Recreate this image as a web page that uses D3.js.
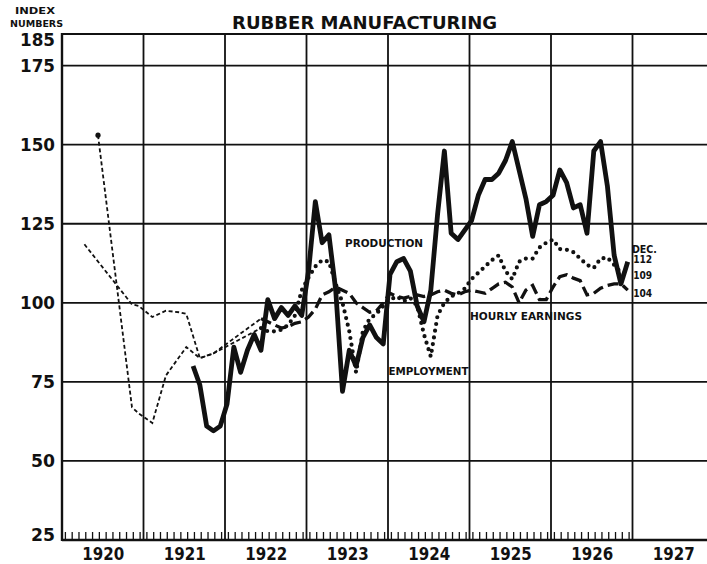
<!DOCTYPE html>
<html>
  <head>
    <meta charset="utf-8">
    <title>Rubber manufacturing</title>
    <script src="https://d3js.org/d3.v7.min.js"></script>
    <style>
      body { margin: 0; background: #fff; }
      svg { display: block; background: #fff; }
      text { font-family: "DejaVu Sans", sans-serif; font-weight: bold; fill: #111; }
    </style>
  </head>
  <body>
    <svg id="chart" width="707" height="564"></svg>
    <script>
      // index numbers, month 0 = Jan 1920
      const years = ["1920", "1921", "1922", "1923", "1924", "1925", "1926", "1927"];
      const yTicks = [25, 50, 75, 100, 125, 150, 175, 185];
      const gridValues = [50, 75, 100, 125, 150, 175, 185];

      // production, monthly from Aug 1921
      const productionStart = 19;
      const production = [
        80, 74, 61, 59.5, 61,
        68, 86, 78, 85, 90, 85, 101, 95, 98.5, 96, 99, 96,
        110, 132, 119, 121.5, 104, 72, 85, 80, 89, 93, 89, 87,
        109, 113, 114, 110, 99, 94, 104, 128, 148, 122, 120, 123,
        126, 134, 139, 139, 141, 145, 151, 142, 133, 121, 131, 132,
        134, 142, 138, 130, 131, 122, 148, 151, 137, 115, 106, 113
      ];

      // employment and hourly earnings, monthly from Jun 1922
      const seriesStart = 29;
      const employment = [
        92, 91, 91, 91.5, 93, 96, 104,
        108, 111.5, 113.5, 113, 106, 100, 91, 78, 91, 95, 96.5, 99,
        101, 102, 100.5, 101.5, 99, 90, 83, 96, 100, 102, 103, 104.5,
        107.5, 109.5, 111.5, 113.5, 115, 110, 107.5, 113, 114, 114, 117.5, 119,
        120, 117, 116.8, 116, 114, 112, 111, 114, 114.3, 112, 109.5, 109
      ];
      const earnings = [
        95, 94, 93, 92, 92.5, 93.5, 94,
        95.5, 98, 102.5, 103.5, 105, 104, 103, 100, 98.5, 97, 97.5, 100,
        103, 102, 101.5, 102, 102.5, 102, 102.5, 103.5, 104, 103, 102.5, 103.5,
        104, 103.5, 103, 104.5, 106, 106.5, 105, 100, 104, 105.5, 101, 101,
        105, 108.3, 108.9, 107.8, 107, 102.5, 103, 104.6, 105.5, 106, 106, 104
      ];

      // earlier readings 1920-22 (month, value)
      const employmentEarly = [[5, 153], [10, 67], [11, 65], [13, 62], [15, 77], [18, 86], [20, 82.5], [22, 84], [29, 92]];
      const earningsEarly = [[3, 118.5], [10, 99.5], [11, 99], [13, 95.5], [15, 97.5], [17, 97], [18, 96.5], [20, 82.5], [22, 84], [29, 95]];

      const decLabels = ["112", "109", "104"];

      const svg = d3.select("#chart");
      const x = d3.scaleLinear().domain([0, 96]).range([62, 714]);
      const y = d3.scaleLinear().domain([25, 185]).range([540, 34]);
      const px = m => x(m + 0.3);

      // grid
      svg.append("g")
        .selectAll("line")
        .data(gridValues)
        .join("line")
          .attr("x1", x(0)).attr("x2", 707)
          .attr("y1", d => y(d)).attr("y2", d => y(d))
          .attr("stroke", "#111").attr("stroke-width", 1.8);
      svg.append("g")
        .selectAll("line")
        .data(d3.range(1, 8))
        .join("line")
          .attr("x1", d => x(d * 12)).attr("x2", d => x(d * 12))
          .attr("y1", y(185)).attr("y2", y(25))
          .attr("stroke", "#111").attr("stroke-width", 1.8);
      // frame
      svg.append("line")
        .attr("x1", x(0)).attr("x2", x(0)).attr("y1", y(185) - 1).attr("y2", y(25) + 1)
        .attr("stroke", "#111").attr("stroke-width", 2.4);
      svg.append("line")
        .attr("x1", x(0)).attr("x2", 707).attr("y1", y(25)).attr("y2", y(25))
        .attr("stroke", "#111").attr("stroke-width", 2.4);
      // month ticks
      svg.append("g")
        .selectAll("line")
        .data(d3.range(84))
        .join("line")
          .attr("x1", d => x(d + 0.5)).attr("x2", d => x(d + 0.5))
          .attr("y1", y(25)).attr("y2", y(25) - 8)
          .attr("stroke", "#111").attr("stroke-width", 1.3);

      // axes labels
      svg.append("g")
        .attr("transform", "translate(" + x(0) + ",0)")
        .call(d3.axisLeft(y).tickValues(yTicks).tickSize(0).tickPadding(7))
        .call(g => g.select(".domain").remove())
        .selectAll("text")
          .attr("font-size", 18)
          .attr("font-family", "DejaVu Sans")
          .attr("font-weight", "bold")
          .attr("fill", "#111")
          .attr("textLength", d => d >= 100 ? 35 : 24)
          .attr("lengthAdjust", "spacingAndGlyphs")
          .attr("dy", d => d === 185 ? "0.65em" : d === 25 ? "0" : "0.32em");
      svg.append("g")
        .attr("transform", "translate(0," + y(25) + ")")
        .call(d3.axisBottom(x).tickValues(years.map((d, i) => i * 12 + 6)).tickFormat((d, i) => years[i]).tickSize(0).tickPadding(7))
        .call(g => g.select(".domain").remove())
        .selectAll("text")
          .attr("font-size", 18)
          .attr("font-family", "DejaVu Sans")
          .attr("font-weight", "bold")
          .attr("fill", "#111")
          .attr("textLength", 42)
          .attr("lengthAdjust", "spacingAndGlyphs");

      // series
      const line = d3.line().x(d => px(d[0])).y(d => y(d[1]));
      const toPoints = (start, values) => values.map((v, i) => [start + i, v]);

      [employmentEarly, earningsEarly].forEach(function(d) {
        svg.append("path")
          .datum(d)
          .attr("d", line)
          .attr("fill", "none")
          .attr("stroke", "#111")
          .attr("stroke-width", 1.8)
          .attr("stroke-dasharray", "4,2.6");
      });
      svg.append("circle")
        .attr("cx", px(employmentEarly[0][0]))
        .attr("cy", y(employmentEarly[0][1]))
        .attr("r", 2.6)
        .attr("fill", "#111");

      svg.append("path")
        .datum(toPoints(seriesStart, earnings))
        .attr("d", line)
        .attr("fill", "none")
        .attr("stroke", "#111")
        .attr("stroke-width", 3.3)
        .attr("stroke-dasharray", "11,5");
      svg.append("path")
        .datum(toPoints(seriesStart, employment))
        .attr("d", line)
        .attr("fill", "none")
        .attr("stroke", "#111")
        .attr("stroke-width", 4.2)
        .attr("stroke-linecap", "round")
        .attr("stroke-dasharray", "0,6.8");
      svg.append("path")
        .datum(toPoints(productionStart, production))
        .attr("d", line)
        .attr("fill", "none")
        .attr("stroke", "#111")
        .attr("stroke-width", 4.8)
        .attr("stroke-linejoin", "round");

      // titles and notes
      const notes = [
        { text: "RUBBER MANUFACTURING", m: 44.55, v: 185, dy: -5, size: 17, w: 265, anchor: "middle" },
        { text: "INDEX", m: -3.97, v: 185, dy: -20, size: 9, w: 40, anchor: "middle" },
        { text: "NUMBERS", m: -3.75, v: 185, dy: -7, size: 9, w: 53, anchor: "middle" },
        { text: "PRODUCTION", m: 41.67, v: 117.55, dy: 0, size: 10, w: 78, anchor: "start" },
        { text: "HOURLY EARNINGS", m: 60.07, v: 94.41, dy: 0, size: 10, w: 112, anchor: "start" },
        { text: "EMPLOYMENT", m: 48.07, v: 77.33, dy: 0, size: 10, w: 80, anchor: "start" },
        { text: "DEC.", m: 83.92, v: 115.85, dy: 0, size: 10, w: 25, anchor: "start" },
        { text: decLabels[0], m: 84.1, v: 112.49, dy: 0, size: 10, w: 19, anchor: "start" },
        { text: decLabels[1], m: 84.1, v: 107.43, dy: 0, size: 10, w: 19, anchor: "start" },
        { text: decLabels[2], m: 84.1, v: 101.74, dy: 0, size: 10, w: 19, anchor: "start" }
      ];
      svg.append("g")
        .selectAll("text")
        .data(notes)
        .join("text")
          .attr("x", d => x(d.m))
          .attr("y", d => y(d.v) + d.dy)
          .attr("font-size", d => d.size)
          .attr("text-anchor", d => d.anchor)
          .attr("textLength", d => d.w)
          .attr("lengthAdjust", "spacingAndGlyphs")
          .text(d => d.text);
    </script>
  </body>
</html>
